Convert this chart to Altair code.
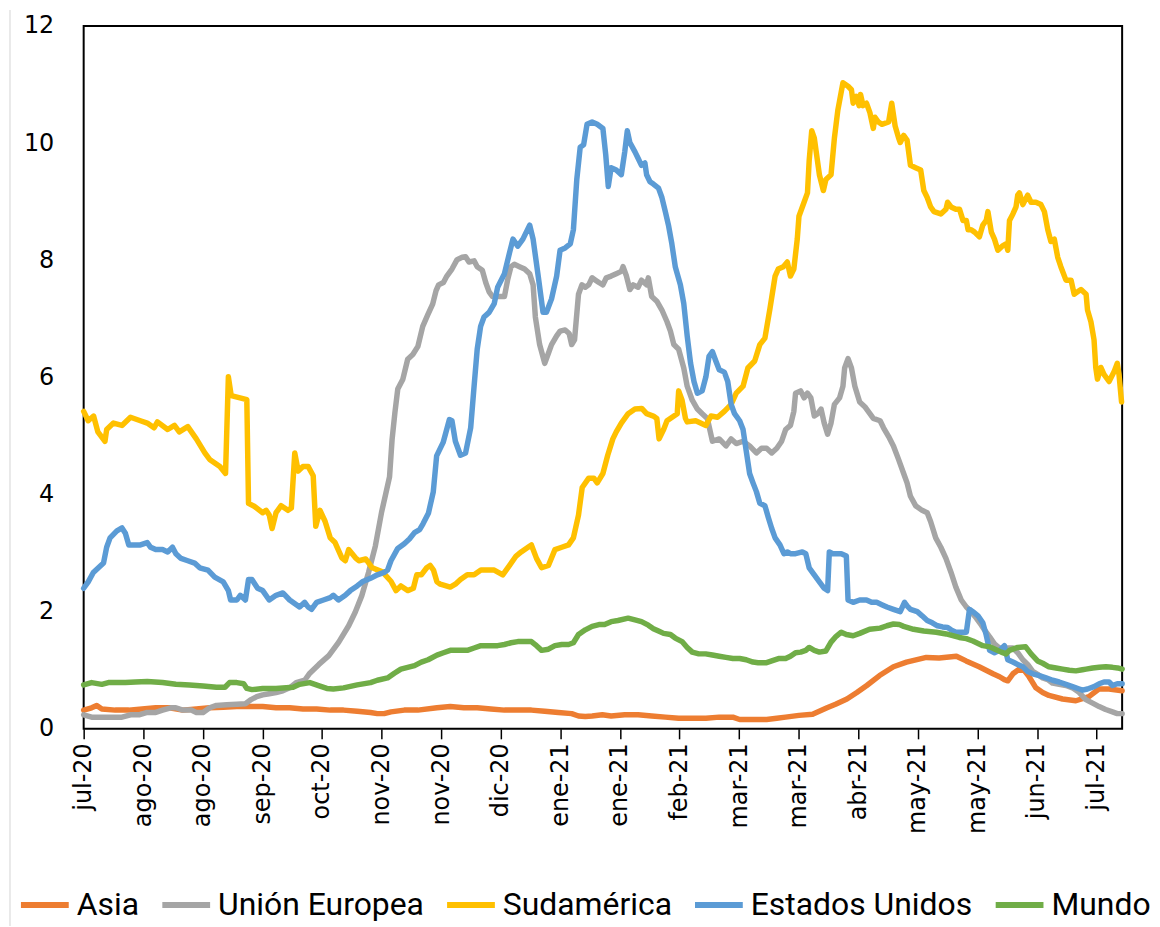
import altair as alt
import pandas as pd

# ---- categories / tick labels ----
tick_days = [0, 21, 42, 63, 84, 105, 126, 147, 168, 189, 210, 231, 252, 273, 294, 315, 336, 357]
tick_labels = ["jul-20", "ago-20", "ago-20", "sep-20", "oct-20", "nov-20", "nov-20", "dic-20",
               "ene-21", "ene-21", "feb-21", "mar-21", "mar-21", "abr-21", "may-21", "may-21",
               "jun-21", "jul-21"]
series_names = ["Asia", "Unión Europea", "Sudamérica", "Estados Unidos", "Mundo"]
series_colors = ["#ED7D31", "#A5A5A5", "#FFC000", "#5B9BD5", "#70AD47"]

# ---- Asia ----
asia_day = [0, 2.8, 4.6, 6.4, 11.1, 15.9, 20.6, 25.4, 30.2, 34.9, 39.7, 44.4, 49.2, 54, 58.7, 63.1,
            67.8, 72.6, 77.3, 82.1, 86.9, 91.6, 96.4, 101.1, 103.5, 105.9, 108.3, 113, 117.8, 124.5,
            129.2, 134, 138.7, 143.5, 148.3, 153, 157.8, 162.5, 167.3, 172, 174.4, 176.8, 179.2,
            182.8, 185.9, 190.7, 195.4, 200.2, 205, 209.7, 214.5, 219.3, 224, 228.8, 231.2, 235.9,
            240.7, 244.3, 247.4, 252.1, 256.9, 262, 265, 269, 272.5, 276, 280.5, 285.4, 290, 297,
            301.5, 307.6, 311, 315.6, 320.5, 322.8, 324.5, 325.7, 327.5, 329.7, 331.5, 333.2, 335.6,
            338, 340.2, 345, 349.7, 354.3, 357.8, 361.4, 366]
asia_val = [0.32, 0.36, 0.40, 0.34, 0.32, 0.32, 0.34, 0.36, 0.36, 0.32, 0.34, 0.36, 0.37, 0.38, 0.38, 0.38,
            0.36, 0.36, 0.34, 0.34, 0.32, 0.32, 0.30, 0.28, 0.26, 0.26, 0.29, 0.32, 0.32, 0.36,
            0.38, 0.36, 0.36, 0.34, 0.32, 0.32, 0.32, 0.30, 0.28, 0.26, 0.22, 0.21, 0.22,
            0.24, 0.22, 0.24, 0.24, 0.22, 0.20, 0.18, 0.18, 0.18, 0.20, 0.20, 0.16, 0.16,
            0.16, 0.18, 0.20, 0.23, 0.25, 0.36, 0.42, 0.51, 0.62, 0.74, 0.91, 1.06, 1.14, 1.22,
            1.21, 1.24, 1.16, 1.06, 0.94, 0.89, 0.84, 0.82, 0.94, 1.02, 1.00, 0.89, 0.70,
            0.62, 0.57, 0.51, 0.48, 0.55, 0.68, 0.68, 0.65]

# ---- Unión Europea ----
ue_day = [0, 2.8, 8.7, 13.5, 16.5, 19.5, 22.4, 25.4, 27.8, 30.7, 32.5, 34.9, 37.9, 39.7, 42.1, 44.4,
          46.8, 50.4, 54, 57, 59, 61, 63.1, 65.4, 67.8, 70.2, 72.6, 74.9, 77.9, 79.7, 82.9, 86.4,
          89.9, 93.4, 95.7, 98, 100.4, 102.8, 105, 106.4, 107.8, 108.7, 109.7, 110.7, 112.5, 114.2,
          116, 117.8, 119.5, 121.3, 123, 124.2, 125.1, 126.8, 128,
          129.8, 131.6, 133.4, 134.6, 135.8, 137.6, 138.7, 140.5, 141.7, 142.9, 144.1, 145.9,
          148.3, 149.4, 150.6, 151.8, 153.6, 155.4, 157.2, 158.4, 159.2, 160.7, 162.5, 163.7,
          164.9, 166.7, 167.9, 169.7, 171.1, 172, 173, 174.4, 175.6, 176.8, 178, 179.2, 180.4,
          181.6, 183, 184.2, 185.9, 187.7, 189.5, 190.1, 191.3, 192.5, 193.7, 195.4, 196.6,
          198.4, 199, 200.2, 202, 203.8, 205.6, 206.8, 208, 209.7, 211.5, 212.7, 214.5, 216.3,
          218, 219.8, 221.6, 224, 226.4, 228.2, 230, 232.4, 234.7, 237.1, 238.9, 240.7, 242.5,
          244.3, 246, 247.4, 249.1, 250.3, 250.9, 252.7, 253.9, 255.1, 256.3, 257.5, 258.7,
          259.9, 261, 262.2, 263.4, 264.6, 266.4, 267.6, 268.2, 269.4, 270.6, 271.8, 273.5,
          275.3, 277.1, 278.3, 280.7, 281.9, 283.7, 285.4, 287.2, 289, 290.2, 291.4, 293.2,
          295.5, 297.3, 298.5, 300.3, 302.1, 303.9, 305.7, 307.4, 309.3, 311.1, 312.8, 314.6,
          316.4, 317.5, 319.3, 321, 322.8, 324.5, 325.7, 327.5, 329.2, 331, 332.7, 334.5, 336.2,
          338, 339.8, 341.5, 343.8, 346.2, 348.5, 350.9, 353.2, 355.6, 357.9, 360.2, 362.6,
          364.3, 366]
ue_val = [0.24, 0.20, 0.20, 0.20, 0.24, 0.24, 0.28, 0.28, 0.32, 0.36, 0.36, 0.32, 0.32, 0.28, 0.28, 0.36,
          0.40, 0.41, 0.42, 0.43, 0.50, 0.55, 0.58, 0.60, 0.62, 0.65, 0.70, 0.79, 0.83, 0.95, 1.10, 1.25,
          1.48, 1.76, 1.99, 2.27, 2.67, 3.12, 3.70, 4.00, 4.30, 4.94, 5.40, 5.80, 5.97, 6.31,
          6.39, 6.53, 6.87, 7.07, 7.25, 7.48, 7.58, 7.62, 7.73,
          7.85, 8.01, 8.05, 8.06, 7.97, 7.99, 7.89, 7.83, 7.62, 7.46, 7.38, 7.38,
          7.38, 7.66, 7.89, 7.93, 7.89, 7.85, 7.77, 7.58, 7.03, 6.56, 6.24, 6.40,
          6.56, 6.71, 6.79, 6.81, 6.75, 6.56, 6.64, 7.42, 7.58, 7.54, 7.58, 7.70, 7.66,
          7.62, 7.58, 7.70, 7.73, 7.77, 7.81, 7.89, 7.73, 7.50, 7.58, 7.54, 7.66,
          7.58, 7.70, 7.38, 7.30, 7.15, 6.95, 6.79, 6.56, 6.48, 6.16, 5.85, 5.61, 5.46,
          5.38, 5.30, 4.91, 4.95, 4.83, 4.95, 4.87, 4.91, 4.83, 4.71, 4.79, 4.79, 4.71,
          4.79, 4.91, 5.11, 5.18, 5.42, 5.73, 5.77, 5.65, 5.73, 5.65, 5.34, 5.38,
          5.46, 5.22, 5.03, 5.22, 5.54, 5.65, 5.85, 6.16, 6.32, 6.16, 5.85, 5.58,
          5.50, 5.38, 5.30, 5.26, 5.14, 4.99, 4.83, 4.60, 4.36, 4.20, 3.97, 3.81,
          3.73, 3.69, 3.54, 3.26, 3.10, 2.91, 2.67, 2.42, 2.20, 2.08, 2.00, 1.89,
          1.77, 1.69, 1.57, 1.45, 1.38, 1.38, 1.38, 1.38, 1.30, 1.18, 1.10, 0.98, 0.93,
          0.87, 0.84, 0.78, 0.76, 0.74, 0.70, 0.62, 0.50, 0.44, 0.38, 0.33, 0.29,
          0.26, 0.26]

# ---- Sudamérica ----
sud_day = [0, 1.6, 3.5, 5, 7.5, 8.1, 10.5, 13.5, 16.5, 20, 22.4, 24.8, 26, 29.6, 32, 33.7, 36.7, 39.7,
           42.7, 44.4, 48, 50, 51, 52, 57.5, 58.1, 60.1, 63.1, 64.3, 65.4, 66.4, 67.8, 69.6, 72, 73.2,
           74.4, 75.6, 77.3, 79.1, 80.9, 81.8, 83.3, 85.1, 86.9, 88.6, 91, 92.2, 93.4, 95.8, 97, 99.4,
           101.7, 105.3, 108.3, 110.1, 111.8, 114.2, 116.2, 117.4, 119, 120.9, 122.1, 123.3, 124.5,
           125.7, 129.2, 131, 132.8, 135.2, 137.6, 140, 142.9, 144.7, 147.7, 150.1, 152.4, 154.2,
           156.6, 157.8, 159.6, 161.4, 163.8, 166.1, 168.5, 170.9, 172.6, 174.4, 175.7, 178, 179.8,
           181, 183, 184.7, 186.5, 187.7, 189.5, 191.9, 194.3, 196.7, 198.4, 200.8, 202, 202.8, 204.4,
           205.6, 207.4, 209.2, 209.7, 210.9, 212.1, 212.7, 215.7, 219.3, 221.1, 223.4, 225.8, 228.2,
           230, 232.4, 234.1, 236.5, 238.3, 240.1, 241.9, 243.7, 244.8, 246.6, 248, 249.1, 250.3,
           251.5, 252.1, 253.9, 255.1, 255.7, 256.6, 257.5, 259.3, 260.7, 261.6, 263.4, 264.6, 265.8,
           267.6, 269.4, 270.6, 271.2, 272.3, 273.3, 273.8, 274.7, 275.9, 277.1, 278.3, 278.9, 280.1,
           281.3, 283.7, 284.8, 286, 287.2, 287.8, 289, 290.2, 291.4, 293.2, 295, 296.1, 297.3, 298.5,
           299.7, 302.1, 303.9, 304.5, 305.7, 307.4, 308.7, 309.9, 311.1, 311.7, 312.8, 314, 315.7,
           316.9, 318.1, 318.7, 319.9, 321, 322.2, 324, 325.1, 325.7, 326.3, 327.5, 328.6, 329.2,
           329.8, 331, 332.7, 333.9, 335.6, 337.4, 338.6, 339.8, 340.9, 342.1, 343.3, 344.4, 346.2,
           348, 349.1, 350.3, 351.5, 353.3, 353.8, 355, 356.1, 356.7, 357.3, 358.5, 359.6, 361.4,
           363.1, 364.3, 364.9, 365.8]
sud_val = [5.42, 5.26, 5.34, 5.07, 4.91, 5.11, 5.22, 5.18, 5.32, 5.26, 5.22, 5.14, 5.24, 5.11, 5.18, 5.07, 5.16, 4.95,
           4.71, 4.60, 4.48, 4.36, 6.01, 5.69, 5.62, 3.85, 3.80, 3.69, 3.73, 3.65, 3.42, 3.69, 3.81, 3.73, 3.77,
           4.71, 4.40, 4.48, 4.48, 4.32, 3.46, 3.73, 3.54, 3.26, 3.18, 2.92, 2.87, 3.06, 2.92, 2.87, 2.90,
           2.75, 2.68, 2.52, 2.36, 2.44, 2.36, 2.40, 2.63, 2.63, 2.75, 2.79, 2.71, 2.51,
           2.47, 2.42, 2.47, 2.55, 2.63, 2.63, 2.71, 2.71, 2.71, 2.63, 2.79, 2.95, 3.02,
           3.10, 3.14, 2.91, 2.75, 2.79, 3.06, 3.10, 3.14, 3.26, 3.65, 4.12, 4.28, 4.28,
           4.20, 4.36, 4.67, 4.95, 5.07, 5.22, 5.38, 5.46, 5.47, 5.38, 5.34, 5.30, 4.95, 5.11,
           5.26, 5.32, 5.38, 5.77, 5.61, 5.30, 5.24, 5.26, 5.18, 5.34, 5.32, 5.42, 5.54,
           5.73, 5.85, 6.16, 6.28, 6.56, 6.67, 7.18, 7.73, 7.85, 7.89, 7.97, 7.73, 7.85,
           8.36, 8.75, 8.99, 9.15, 9.70, 10.21, 10.09, 9.46, 9.19, 9.38, 9.46, 10.09, 10.56,
           11.03, 10.97, 10.91, 10.68, 10.80, 10.64, 10.83, 10.64, 10.68, 10.52, 10.25, 10.44, 10.36,
           10.32, 10.36, 10.68, 10.29, 10.09, 10.01, 10.13, 10.05, 9.62, 9.58, 9.54, 9.19, 9.07, 8.91,
           8.83, 8.79, 8.87, 8.99, 8.91, 8.87, 8.87, 8.68, 8.68, 8.52, 8.52, 8.48, 8.40,
           8.60, 8.68, 8.83, 8.48, 8.36, 8.17, 8.25, 8.28, 8.17, 8.68, 8.79, 8.91, 9.11,
           9.15, 8.95, 9.11, 8.99, 8.99, 8.95, 8.83, 8.52, 8.32, 8.36, 8.05, 7.89, 7.66,
           7.66, 7.42, 7.46, 7.50, 7.42, 7.15, 6.95, 6.64, 6.17, 5.97, 6.17, 6.05, 5.93,
           6.09, 6.24, 6.05, 5.58]

# ---- Estados Unidos ----
eeuu_day = [0, 1.6, 3.4, 5.2, 7, 8.1, 9.3, 11.7, 13.5, 14.7, 15.9, 17.7, 20, 22.4, 23.6, 25.4, 27.8, 29.6,
            31.3, 32.5, 34.3, 36.7, 39.1, 40.9, 43.8, 46.2, 49.2, 51, 51.8, 54, 55.2, 57, 58.1, 59.3,
            61.3, 63.1, 65.4, 67.8, 70.2, 72.6, 76.1, 77.9, 79.1, 80.3, 82.1, 84.5, 86.9, 88, 89.8,
            92.2, 94, 96.4, 98.2, 101.1, 103.5, 105.9, 107.1, 108.3, 110.7, 113, 114.8, 116.6, 118.4,
            119.6, 121.5, 123.2, 124.4, 126.7, 128.9, 129.8, 131, 132.8, 134.6, 136.4, 137.6, 138.7,
            139.9, 141.1, 142.9, 144.7, 145.9, 148.3, 150.1, 151.3, 153, 154.8, 157.2, 158.4, 160.2,
            161.9, 163.1, 164.9, 166.7, 167.9, 169.7, 171.5, 172.6, 173.8, 175, 176.2, 177.4, 179.2,
            181, 183, 184, 184.9, 185.9, 187.7, 189.5, 190.7, 191.6, 192.5, 194.3, 195.4, 196.6,
            197.8, 198.4, 199.6, 200.8, 202.6, 203.8, 205, 206.1, 207.3, 208.5, 210.3, 211.5, 212.7,
            213.9, 215.1, 216.3, 218, 219.3, 220.4, 221.6, 222.8, 224, 225.8, 227, 228.2, 229.4,
            231.2, 232.4, 233.5, 234.7, 235.9, 237.1, 238.3, 240.1, 241.3, 242.5, 243.7, 245.4,
            246.8, 248, 249.1, 250.9, 253.3, 254.5, 255.7, 257.5, 259.3, 261, 262.2, 262.8, 264,
            265.8, 267, 268.8, 269.4, 271.2, 273.5, 275.9, 277.7, 279.5, 281.3, 283.1, 285.4, 287.8,
            289.3, 290.2, 291.4, 293.8, 295.5, 297.3, 299.1, 300.9, 302.7, 304.5, 305.7, 307.4,
            309.9, 311.1, 312.2, 313.4, 315.2, 316.9, 318.1, 319.3, 321, 322.8, 324.5, 325.7, 327.5,
            329.2, 331, 332.7, 334.5, 336.8, 339.2, 341.5, 343.8, 346.2, 348.5, 350.9, 352.1, 353.8,
            356.1, 357.9, 359.6, 361.4, 362.6, 364.3, 366]
eeuu_val = [2.40, 2.51, 2.67, 2.75, 2.83, 3.10, 3.26, 3.38, 3.43, 3.34, 3.14, 3.14, 3.14, 3.18, 3.10, 3.06, 3.06, 3.02,
            3.10, 2.99, 2.91, 2.87, 2.83, 2.75, 2.71, 2.59, 2.51, 2.36, 2.20, 2.20, 2.28, 2.20, 2.55, 2.55,
            2.40, 2.36, 2.20, 2.28, 2.32, 2.20, 2.08, 2.16, 2.08, 2.04, 2.16, 2.20, 2.24, 2.28, 2.20,
            2.28, 2.36, 2.44, 2.51, 2.57, 2.63, 2.67, 2.71, 2.87, 3.08, 3.16, 3.24, 3.35, 3.40,
            3.50, 3.68, 4.04, 4.66, 4.89, 5.28, 5.26, 4.91, 4.67, 4.71, 5.14, 5.85, 6.48,
            6.87, 7.03, 7.11, 7.26, 7.54, 7.77, 8.13, 8.36, 8.24, 8.36, 8.60, 8.36, 7.73,
            7.11, 7.11, 7.34, 7.73, 8.17, 8.21, 8.28, 8.52, 9.38, 9.93, 9.97, 10.32, 10.36,
            10.32, 10.25, 9.80, 9.26, 9.58, 9.54, 9.46, 9.85, 10.21, 10.01, 9.85, 9.74, 9.62,
            9.66, 9.46, 9.34, 9.30, 9.23, 9.07, 8.83, 8.60, 8.28, 7.89, 7.58, 7.26, 6.71,
            6.24, 5.93, 5.73, 5.77, 6.01, 6.36, 6.44, 6.28, 6.13, 6.09, 5.93, 5.54, 5.38,
            5.26, 5.11, 4.75, 4.36, 4.20, 4.05, 3.85, 3.81, 3.61, 3.42, 3.26, 3.14,
            2.99, 3.02, 2.99, 2.99, 3.02, 2.99, 2.75, 2.63, 2.51, 2.40, 2.36, 3.02, 2.99,
            2.99, 2.99, 2.95, 2.20, 2.16, 2.20, 2.20, 2.16, 2.16, 2.12, 2.08, 2.04, 2.00,
            2.16, 2.10, 2.04, 2.00, 1.93, 1.85, 1.81, 1.76, 1.74, 1.73, 1.69, 1.65,
            1.65, 1.65, 2.04, 2.00, 1.93, 1.81, 1.60, 1.34, 1.30, 1.34, 1.42, 1.18, 1.14,
            1.10, 1.06, 0.98, 0.94, 0.91, 0.87, 0.83, 0.80, 0.76, 0.72, 0.68, 0.66, 0.68,
            0.72, 0.77, 0.80, 0.80, 0.74, 0.77, 0.77]

# ---- Mundo ----
mundo_day = [0, 2.8, 6.4, 8.7, 14.7, 18.3, 22.4, 27.8, 32.5, 37.3, 42.1, 46.8, 49.8, 51.4, 54, 56.4, 57.5,
             59.3, 63.1, 67.8, 73.8, 76.1, 79.7, 83.3, 85.7, 88, 91.6, 96.4, 101.1, 103.5, 107.1, 109.5,
             111.8, 114.2, 116.6, 119, 121.4, 124.5, 126.8, 129.2, 131.6, 135.2, 137.6, 140, 143.5,
             145.9, 148.3, 150.6, 153, 155.4, 157.8, 159.6, 161.4, 163.8, 166.1, 168.5, 170.9, 172.6,
             174.4, 176.8, 179.2, 181.6, 183.6, 185.9, 188.3, 191.9, 194.3, 196.6, 199, 200.8, 202.6,
             204.4, 206.8, 208.5, 210.9, 212.7, 214.5, 216.8, 219.2, 221.6, 224, 226.4, 228.8, 231.2,
             233.5, 235.9, 237.7, 240.7, 242.5, 244.9, 247.4, 249.1, 250.9, 252.7, 254.5, 255.7, 257.5,
             259.3, 261.6, 263.4, 265.2, 267, 268.8, 271.2, 273.5, 277, 280.7, 283.1, 285.4,
             287.5, 289, 292.5, 296.1, 300.5, 304, 308.6, 311.1, 313.4, 316.9, 319.3, 321.6, 323.4,
             325.1, 326.3, 327.5, 329.2, 332, 333.9, 336.2, 338, 340.2, 342.7, 345, 347.4, 349.7,
             352, 353.3, 355.6, 357.9, 360.3, 362.6, 364.4, 366]
mundo_val = [0.75, 0.79, 0.76, 0.79, 0.79, 0.80, 0.81, 0.79, 0.76, 0.75, 0.73, 0.71, 0.71, 0.79, 0.79, 0.77, 0.69,
             0.67, 0.69, 0.69, 0.71, 0.76, 0.79, 0.73, 0.69, 0.68, 0.70, 0.75, 0.79, 0.83, 0.87, 0.95,
             1.02, 1.05, 1.08, 1.14, 1.18, 1.26, 1.30, 1.34, 1.34, 1.34, 1.38, 1.42, 1.42,
             1.42, 1.44, 1.47, 1.49, 1.49, 1.49, 1.42, 1.34, 1.36, 1.42, 1.44, 1.44, 1.47,
             1.61, 1.69, 1.75, 1.78, 1.78, 1.83, 1.85, 1.89, 1.86, 1.83, 1.77, 1.71, 1.67,
             1.63, 1.61, 1.55, 1.49, 1.39, 1.31, 1.28, 1.28, 1.26, 1.24, 1.22, 1.20, 1.20,
             1.18, 1.14, 1.13, 1.13, 1.16, 1.20, 1.20, 1.24, 1.30, 1.31, 1.34, 1.39, 1.34,
             1.31, 1.33, 1.48, 1.58, 1.65, 1.61, 1.59, 1.63, 1.70, 1.72, 1.76, 1.79,
             1.78, 1.75, 1.70, 1.67, 1.65, 1.62, 1.56, 1.54, 1.50, 1.42, 1.40, 1.35, 1.31,
             1.28, 1.34, 1.36, 1.39, 1.40, 1.28, 1.16, 1.12, 1.06, 1.04, 1.02, 1.00, 0.99,
             1.01, 1.02, 1.04, 1.05, 1.06, 1.05, 1.04, 1.02]

all_series = [
    ("Asia", asia_day, asia_val),
    ("Unión Europea", ue_day, ue_val),
    ("Sudamérica", sud_day, sud_val),
    ("Estados Unidos", eeuu_day, eeuu_val),
    ("Mundo", mundo_day, mundo_val),
]

rows = []
for name, days, vals in all_series:
    for d, v in zip(days, vals):
        rows.append({"serie": name, "dia": d, "valor": v})
df = pd.DataFrame(rows)

label_array = "[" + ",".join("'" + t + "'" for t in tick_labels) + "]"
label_expr = label_array + "[round(datum.value / 21)]"

lines = alt.Chart(df).mark_line(strokeWidth=5.5, strokeJoin="round", strokeCap="round").encode(
    x=alt.X("dia:Q",
            scale=alt.Scale(domain=[0, 366], nice=False, zero=False),
            axis=alt.Axis(values=tick_days, labelExpr=label_expr, labelAngle=270,
                          labelFont="DejaVu Sans", labelFontSize=24, labelColor="black",
                          labelPadding=4, labelFlush=False, labelOverlap=False, labelBound=False,
                          ticks=True, tickColor="black", tickSize=10, tickWidth=1.5,
                          domain=False, grid=False, title=None)),
    y=alt.Y("valor:Q",
            scale=alt.Scale(domain=[0, 12], nice=False),
            axis=alt.Axis(values=[0, 2, 4, 6, 8, 10, 12], ticks=False, domain=False, grid=False,
                          labelFont="DejaVu Sans", labelFontSize=24, labelColor="black",
                          labelPadding=30, title=None)),
    color=alt.Color("serie:N",
                    scale=alt.Scale(domain=series_names, range=series_colors),
                    sort=series_names,
                    legend=alt.Legend(title=None, orient="none", legendX=-66, legendY=856,
                                      direction="horizontal", columns=5,
                                      symbolType="stroke", symbolSize=2304, symbolStrokeWidth=6,
                                      labelFont="Roboto", labelFontSize=32, labelColor="black",
                                      labelOffset=5, columnPadding=11, labelLimit=500, padding=0)),
)

border = alt.Chart(pd.DataFrame({"k": [0]})).mark_rule(color="#d4d4d4", strokeWidth=1).encode(
    x=alt.value(-74), y=alt.value(-16), y2=alt.value(904)
)

chart = alt.layer(border, lines).properties(
    width=1043, height=706,
    autosize=alt.AutoSizeParams(type="none"),
    padding={"left": 76, "top": 16, "right": 30, "bottom": 196},
    background="white",
).configure_view(stroke="black", strokeWidth=2)

chart.save("out.html", embed_options={"renderer": "svg", "actions": False})
